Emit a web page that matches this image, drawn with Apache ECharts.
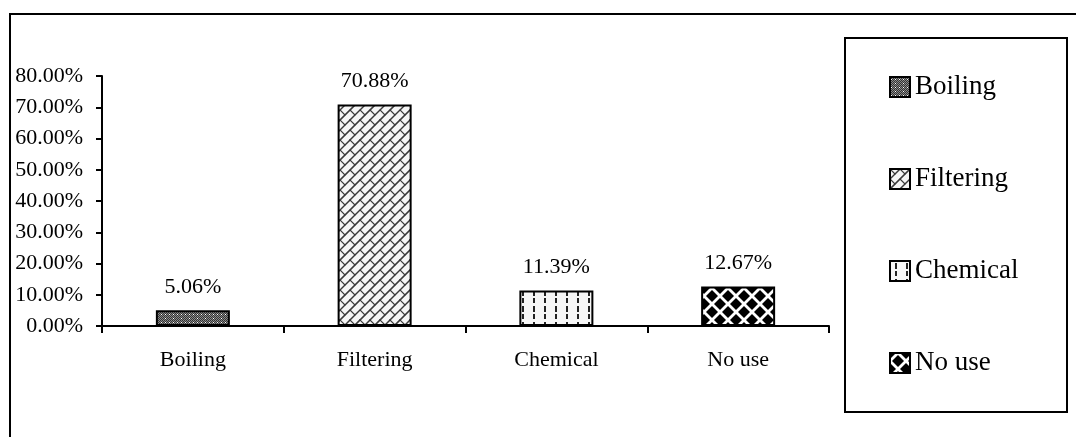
<!DOCTYPE html>
<html>
<head>
<meta charset="utf-8">
<script src="https://cdn.jsdelivr.net/npm/echarts@6/dist/echarts.min.js"></script>
<style>
html,body{margin:0;padding:0;background:#fff;}
#chart{width:1076px;height:437px;}
</style>
</head>
<body>
<div id="chart"></div>
<script>
// ---- data ----
var categories = ['Boiling', 'Filtering', 'Chemical', 'No use'];
var values = [5.06, 70.88, 11.39, 12.67];
var yTicks = [0, 10, 20, 30, 40, 50, 60, 70, 80];

// ---- fill patterns ----
function makeCanvas(w, h, draw) {
  var c = document.createElement('canvas');
  c.width = w; c.height = h;
  var ctx = c.getContext('2d');
  draw(ctx, w, h);
  return c;
}
function wrapDraw(w, h, fn) {
  for (var dx = -w; dx <= w; dx += w) for (var dy = -h; dy <= h; dy += h) fn(dx, dy);
}
var patBoiling = makeCanvas(8, 8, function (ctx, w, h) {
  ctx.fillStyle = '#8a8a8a'; ctx.fillRect(0, 0, w, h);
  ctx.fillStyle = '#333';
  for (var y = 0; y < h; y++) for (var x = 0; x < w; x++) if ((x + y) % 2 === 0) ctx.fillRect(x, y, 1, 1);
  ctx.fillStyle = '#fff';
  ctx.fillRect(1, 2, 1, 1); ctx.fillRect(5, 6, 1, 1); ctx.fillRect(5, 2, 1, 1);
});
var patFilter = makeCanvas(20, 20, function (ctx, w, h) {
  ctx.fillStyle = '#f5f5f5'; ctx.fillRect(0, 0, w, h);
  ctx.strokeStyle = '#3a3a3a'; ctx.lineWidth = 1.1; ctx.lineCap = 'round';
  wrapDraw(w, h, function (dx, dy) {
    [0, 10, 20, 30, 40].forEach(function (c) {
      ctx.beginPath(); ctx.moveTo(dx + c - 20, dy + 20); ctx.lineTo(dx + c, dy); ctx.stroke();
    });
    ctx.beginPath(); ctx.moveTo(dx + 0, dy + 0); ctx.lineTo(dx + 5, dy + 5); ctx.stroke();
    ctx.beginPath(); ctx.moveTo(dx + 10, dy + 0); ctx.lineTo(dx + 15, dy + 5); ctx.stroke();
    ctx.beginPath(); ctx.moveTo(dx + 10, dy + 10); ctx.lineTo(dx + 15, dy + 15); ctx.stroke();
    ctx.beginPath(); ctx.moveTo(dx + 0, dy + 10); ctx.lineTo(dx + 5, dy + 15); ctx.stroke();
  });
});
var patChem = makeCanvas(11, 16, function (ctx, w, h) {
  ctx.fillStyle = '#f7f7f7'; ctx.fillRect(0, 0, w, h);
  ctx.fillStyle = '#222';
  ctx.fillRect(5, 2, 2, 6);
  ctx.fillRect(5, 10, 2, 5);
});
var patNoUse = makeCanvas(16, 16, function (ctx, w, h) {
  ctx.fillStyle = '#fff'; ctx.fillRect(0, 0, w, h);
  ctx.fillStyle = '#000';
  var r = 6;
  [[8, 8], [0, 0], [16, 0], [0, 16], [16, 16]].forEach(function (p) {
    ctx.beginPath(); ctx.moveTo(p[0], p[1] - r); ctx.lineTo(p[0] + r, p[1]); ctx.lineTo(p[0], p[1] + r); ctx.lineTo(p[0] - r, p[1]); ctx.closePath(); ctx.fill();
  });
});
var patterns = [patBoiling, patFilter, patChem, patNoUse];

var FONT = 'Liberation Serif';
var series = categories.map(function (name, i) {
  return {
    name: name,
    type: 'bar',
    stack: 'one',
    barWidth: 74,
    data: categories.map(function (c, j) { return j === i ? values[i] : null; }),
    itemStyle: {
      color: { image: patterns[i], repeat: 'repeat' },
      borderColor: '#000',
      borderWidth: 2
    },
    label: {
      show: true,
      position: 'top',
      distance: 12,
      fontFamily: FONT,
      fontSize: 22,
      color: '#000',
      formatter: function (p) { return p.value.toFixed(2) + '%'; }
    }
  };
});

var chart = echarts.init(document.getElementById('chart'));
chart.setOption({
  animation: false,
  backgroundColor: '#fff',
  grid: { left: 102, right: 247, top: 76, bottom: 111 },
  xAxis: {
    type: 'category',
    data: categories,
    axisLine: { lineStyle: { color: '#000', width: 2 } },
    axisTick: { show: true, length: 7, lineStyle: { color: '#000', width: 2 } },
    axisLabel: { fontFamily: FONT, fontSize: 22, color: '#000', margin: 23 }
  },
  yAxis: {
    type: 'value',
    min: yTicks[0],
    max: yTicks[yTicks.length - 1],
    interval: yTicks[1] - yTicks[0],
    axisLine: { show: true, lineStyle: { color: '#000', width: 2 } },
    axisTick: { show: true, length: 6, lineStyle: { color: '#000', width: 2 } },
    splitLine: { show: false },
    axisLabel: {
      fontFamily: FONT, fontSize: 22, color: '#000', margin: 19,
      formatter: function (v) { return v.toFixed(2) + '%'; }
    }
  },
  legend: {
    orient: 'vertical',
    left: 889,
    top: 73,
    padding: 0,
    itemWidth: 20,
    itemHeight: 20,
    itemGap: 64,
    icon: 'rect',
    textStyle: { fontFamily: FONT, fontSize: 27, color: '#000', lineHeight: 28 },
    data: categories
  },
  graphic: [
    {
      type: 'polyline',
      shape: { points: [[10, 440], [10, 14], [1080, 14]] },
      style: { stroke: '#000', lineWidth: 2, fill: null },
      silent: true
    },
    {
      type: 'rect',
      shape: { x: 845, y: 38, width: 222, height: 374 },
      style: { stroke: '#000', lineWidth: 2, fill: null },
      silent: true
    }
  ],
  series: series
});
</script>
</body>
</html>
